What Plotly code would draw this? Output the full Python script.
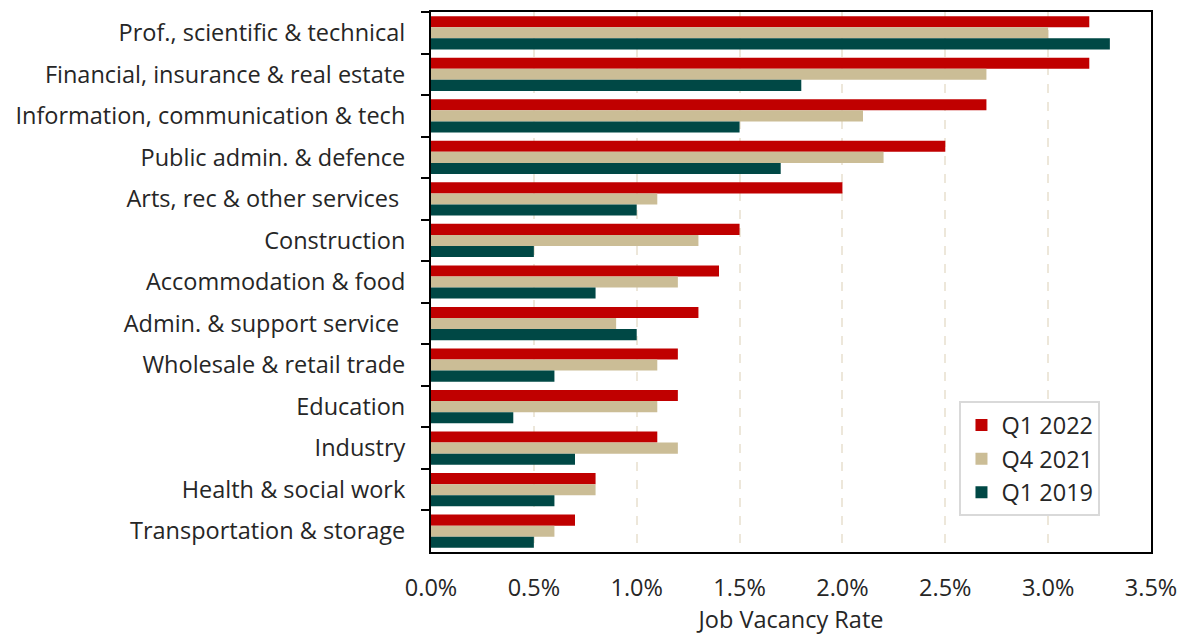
import plotly.graph_objects as go

categories = [
    "Prof., scientific & technical",
    "Financial, insurance & real estate",
    "Information, communication & tech",
    "Public admin. & defence",
    "Arts, rec & other services ",
    "Construction",
    "Accommodation & food",
    "Admin. & support service ",
    "Wholesale & retail trade",
    "Education",
    "Industry",
    "Health & social work",
    "Transportation & storage",
]
q1_2022 = [3.2, 3.2, 2.7, 2.5, 2.0, 1.5, 1.4, 1.3, 1.2, 1.2, 1.1, 0.8, 0.7]
q4_2021 = [3.0, 2.7, 2.1, 2.2, 1.1, 1.3, 1.2, 0.9, 1.1, 1.1, 1.2, 0.8, 0.6]
q1_2019 = [3.3, 1.8, 1.5, 1.7, 1.0, 0.5, 0.8, 1.0, 0.6, 0.4, 0.7, 0.6, 0.5]

series = [
    ("Q1 2022", q1_2022, "#c00000"),
    ("Q4 2021", q4_2021, "#cbbd96"),
    ("Q1 2019", q1_2019, "#004845"),
]

fig = go.Figure()
for name, vals, col in series:
    fig.add_trace(go.Bar(
        y=categories, x=[v / 100 for v in vals], name=name, orientation="h",
        marker=dict(color=col, line=dict(width=0)),
    ))

font_family = "Open Sans, Noto Sans, sans-serif"
FS = 23.5
fig.update_layout(
    width=1187, height=637,
    margin=dict(l=431, r=35, t=10, b=85),
    barmode="group", bargap=0.2, bargroupgap=0,
    plot_bgcolor="white", paper_bgcolor="white",
    font=dict(family=font_family, size=FS, color="#262626"),
    showlegend=True,
    legend=dict(
        x=0.734, y=0.279, xanchor="left", yanchor="top",
        bgcolor="white", bordercolor="#d9d9d9", borderwidth=2,
        font=dict(size=FS, color="#262626"),
        tracegroupgap=0, itemwidth=30,
    ),
)
fig.update_xaxes(
    range=[0, 0.035], tickvals=[i * 0.005 for i in range(8)], tickformat=".1%",
    showgrid=True, gridcolor="#ede7da", gridwidth=2, griddash="dash",
    showline=True, linecolor="black", linewidth=2, mirror=True,
    ticks="", zeroline=False, ticklabelstandoff=14,
    title=dict(text="Job Vacancy Rate", font=dict(size=FS), standoff=2),
    tickfont=dict(size=FS),
)
fig.update_yaxes(
    autorange="reversed", showline=True, linecolor="black", linewidth=2, mirror=True,
    ticks="outside", ticklen=8, tickwidth=2, tickcolor="black", tickson="boundaries",
    showgrid=False, tickfont=dict(size=FS), ticklabelstandoff=19,
)
fig.write_html("out.html")
